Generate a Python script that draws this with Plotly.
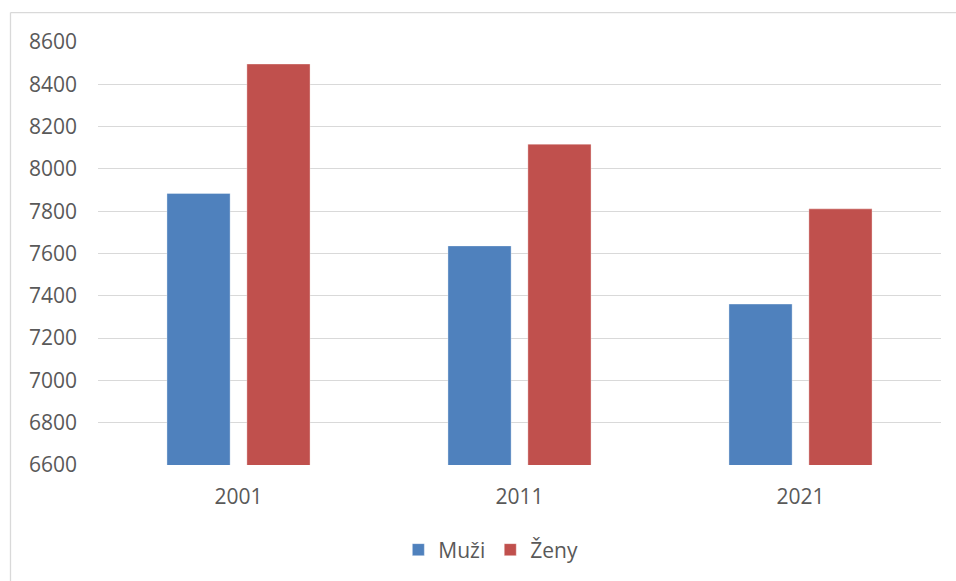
import plotly.graph_objects as go

years = ["2001", "2011", "2021"]
muzi = [7884, 7636, 7361]
zeny = [8496, 8117, 7811]
y_ticks = [6600, 6800, 7000, 7200, 7400, 7600, 7800, 8000, 8200, 8400, 8600]

W, H = 956, 581
L, R, T, B = 98, 15, 42, 115
pw, ph = W - L - R, H - T - B

def px_x(p):
    return (p - L) / pw

def px_y(p):
    return (H - B - p) / ph

fig = go.Figure()
fig.add_trace(go.Bar(x=years, y=muzi, name="Muži",
                     marker=dict(color="#4F81BD", line=dict(color="rgba(255,255,255,0.35)", width=1))))
fig.add_trace(go.Bar(x=years, y=zeny, name="Ženy",
                     marker=dict(color="#C0504D", line=dict(color="rgba(255,255,255,0.35)", width=1))))

font = dict(family="Open Sans", size=21, color="#595959")

fig.update_layout(
    width=W, height=H,
    margin=dict(l=L, r=R, t=T, b=B),
    paper_bgcolor="white", plot_bgcolor="white",
    barmode="group", bargap=0.431, bargroupgap=0.21,
    font=font,
    showlegend=True,
    legend=dict(orientation="h", x=0.466, xanchor="center", y=px_y(550), yanchor="middle",
                font=font, itemwidth=30, traceorder="normal"),
    xaxis=dict(showgrid=False, showline=False, ticks="", tickfont=font, ticklabelstandoff=17),
    yaxis=dict(range=[6600, 8600], tickvals=y_ticks, showgrid=True, gridcolor="#D9D9D9",
               gridwidth=1.3, zeroline=False, showline=False, ticks="", tickfont=font,
               ticklabelstandoff=20),
    shapes=[
        dict(type="line", xref="paper", yref="paper", x0=px_x(10.5), x1=px_x(960),
             y0=px_y(12.5), y1=px_y(12.5), line=dict(color="#D9D9D9", width=1.3)),
        dict(type="line", xref="paper", yref="paper", x0=px_x(10.5), x1=px_x(10.5),
             y0=px_y(12.5), y1=px_y(590), line=dict(color="#D9D9D9", width=1.3)),
    ],
)

fig.write_html("out.html", config={"displayModeBar": False},
               post_script="document.body.style.margin='0';document.body.style.overflow='hidden';")
